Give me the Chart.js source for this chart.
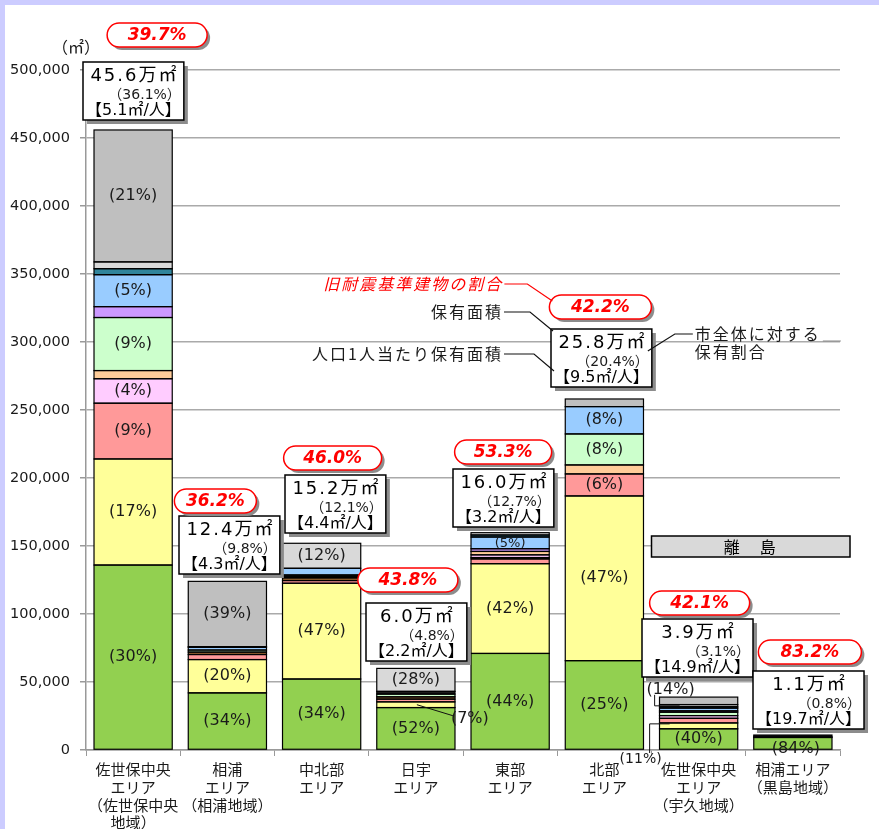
<!DOCTYPE html>
<html><head><meta charset="utf-8">
<script src="https://cdn.jsdelivr.net/npm/chart.js@4.4.1/dist/chart.umd.min.js"></script>
<style>html,body{margin:0;padding:0;background:#ccccff;}canvas{display:block;}</style>
</head><body>
<canvas id="c" width="879" height="829"></canvas>
<script>
// ---------- data ----------
const categories = [
  ['佐世保中央','エリア','（佐世保中央','地域）'],
  ['相浦','エリア','（相浦地域）'],
  ['中北部','エリア'],
  ['日宇','エリア'],
  ['東部','エリア'],
  ['北部','エリア'],
  ['佐世保中央','エリア','（宇久地域）'],
  ['相浦エリア','（黒島地域）']
];
const yTickLabels = ['0','50,000','100,000','150,000','200,000','250,000','300,000','350,000','400,000','450,000','500,000'];

// floor area by facility type (m²), one value per area
const schoolArea    = [136000, 42000, 52200, 31200, 71000, 65700, 15600, 9200];
const housingArea   = [78000, 24500, 70400, 4200, 66000, 121100, 4300, 0];
const cultureArea   = [41000, 3700, 2000, 2000, 3500, 16200, 3400, 500];
const socialEduArea = [0, 1800, 2000, 1700, 1000, 0, 0, 0];
const sportsArea    = [18000, 0, 0, 0, 2000, 0, 2000, 0];
const industryArea  = [6000, 0, 800, 0, 2500, 6600, 0, 0];
const childArea     = [39000, 1500, 0, 2000, 0, 22800, 2500, 0];
const welfareArea   = [8000, 0, 0, 0, 2000, 0, 1000, 0];
const medicalArea   = [0, 0, 1300, 2000, 0, 0, 0, 1300];
const adminArea     = [23500, 2000, 4900, 0, 8600, 20100, 2000, 0];
const supplyArea    = [4400, 500, 0, 0, 1500, 0, 1000, 0];
const parkArea      = [5000, 0, 18400, 16900, 1700, 0, 1600, 0];
const otherArea     = [97000, 48000, 0, 0, 0, 5600, 5500, 0];

// summary texts per area
const totalTexts   = ['45.6万㎡','12.4万㎡','15.2万㎡','6.0万㎡','16.0万㎡','25.8万㎡','3.9万㎡','1.1万㎡'];
const shareTexts   = ['（36.1%）','（9.8%）','（12.1%）','（4.8%）','（12.7%）','（20.4%）','（3.1%）','（0.8%）'];
const perCapTexts  = ['【5.1㎡/人】','【4.3㎡/人】','【4.4㎡/人】','【2.2㎡/人】','【3.2㎡/人】','【9.5㎡/人】','【14.9㎡/人】','【19.7㎡/人】'];
const oldRatioTexts= ['39.7%','36.2%','46.0%','43.8%','53.3%','42.2%','42.1%','83.2%'];

// percentage labels inside bars: [area index, series index, text]
const segmentLabels = [
  [0,0,'(30%)'],[0,1,'(17%)'],[0,2,'(9%)'],[0,4,'(4%)'],[0,6,'(9%)'],[0,9,'(5%)'],[0,12,'(21%)'],
  [1,0,'(34%)'],[1,1,'(20%)'],[1,12,'(39%)'],
  [2,0,'(34%)'],[2,1,'(47%)'],[2,11,'(12%)'],
  [3,0,'(52%)'],[3,1,'(7%)'],[3,11,'(28%)'],
  [4,0,'(44%)'],[4,1,'(42%)'],[4,9,'(5%)'],
  [5,0,'(25%)'],[5,1,'(47%)'],[5,2,'(6%)'],[5,6,'(8%)'],[5,9,'(8%)'],
  [6,0,'(40%)'],[6,1,'(11%)'],[6,12,'(14%)'],
  [7,0,'(84%)']
];

// ---------- styling ----------
const series = [
  {name:'学校教育系施設', values:schoolArea, color:'#92d050'},
  {name:'公営住宅', values:housingArea, color:'#ffff99'},
  {name:'市民文化系施設', values:cultureArea, color:'#ff9999'},
  {name:'社会教育系施設', values:socialEduArea, color:'#996633'},
  {name:'スポーツ・レクリエーション系施設', values:sportsArea, color:'#ffccff'},
  {name:'産業系施設', values:industryArea, color:'#ffcc99'},
  {name:'子育て支援施設', values:childArea, color:'#ccffcc'},
  {name:'保健・福祉施設', values:welfareArea, color:'#cc99ff'},
  {name:'医療施設', values:medicalArea, color:'#1a1a1a'},
  {name:'行政系施設', values:adminArea, color:'#99ccff'},
  {name:'供給処理施設', values:supplyArea, color:'#31859c'},
  {name:'公園', values:parkArea, color:'#d9d9d9'},
  {name:'その他', values:otherArea, color:'#bfbfbf'}
];

// layout of summary boxes relative to each bar (pixels)
const boxLayout = [
  {dx:0, gap:10, pdx:24, pdy:27, pw:100},
  {dx:2, gap:7, pdx:-12, pdy:15, pw:82},
  {dx:14, gap:10, pdx:11, pdy:17, pw:98},
  {dx:1, gap:7, pdx:-8, pdy:23, pw:100},
  {dx:-7, gap:6, pdx:-7, pdy:17, pw:97},
  {dx:-3, gap:12, pdx:-4, pdy:22, pw:102},
  {dx:-1, gap:20, pdx:1, pdy:16, pw:100},
  {dx:16, gap:6, pdx:17, pdy:19, pw:103}
];

const NUMFONT = "'DejaVu Sans','Noto Sans CJK JP',sans-serif";
const JPFONT = "'Noto Sans CJK JP','DejaVu Sans',sans-serif";
const TXT = '#1a1a1a';

function txt(ctx, s, x, y, font, color, align, spacing){
  ctx.save();
  ctx.font = font; ctx.fillStyle = color; ctx.textAlign = align || 'center'; ctx.textBaseline = 'middle';
  if (spacing) ctx.letterSpacing = spacing + 'px';
  ctx.fillText(s, x, y);
  ctx.restore();
}
function measure(ctx, s, font, spacing){
  ctx.save(); ctx.font = font; if (spacing) ctx.letterSpacing = spacing + 'px';
  const w = ctx.measureText(s).width; ctx.restore(); return w;
}
function line(ctx, pts, color, lw){
  ctx.save(); ctx.beginPath(); ctx.moveTo(pts[0][0], pts[0][1]);
  for (let i=1;i<pts.length;i++) ctx.lineTo(pts[i][0], pts[i][1]);
  ctx.strokeStyle = color; ctx.lineWidth = lw || 1; ctx.stroke(); ctx.restore();
}
function roundPath(ctx, x, y, w, h, r){
  ctx.beginPath();
  ctx.moveTo(x+r, y); ctx.lineTo(x+w-r, y); ctx.arc(x+w-r, y+r, r, -Math.PI/2, Math.PI/2);
  ctx.lineTo(x+r, y+h); ctx.arc(x+r, y+r, r, Math.PI/2, Math.PI*1.5); ctx.closePath();
}

const annotPlugin = {
  id:'annot',
  beforeDraw(chart){
    const c = chart.ctx; c.save();
    c.fillStyle = '#ccccff'; c.fillRect(0,0,chart.width,chart.height);
    c.fillStyle = '#ffffff'; c.fillRect(5,5,chart.width-5,chart.height-5);
    c.restore();
  },
  afterDatasetsDraw(chart){
    // Excel-like outlines: one shared line between stacked segments
    const ctx = chart.ctx;
    ctx.save();
    ctx.strokeStyle = '#000'; ctx.lineWidth = 1.2;
    chart.data.datasets.forEach((ds, di) => {
      chart.getDatasetMeta(di).data.forEach((el, i) => {
        if (ds.data[i] == null) return;
        ctx.strokeRect(el.x - el.width/2, el.y, el.width, el.base - el.y);
      });
    });
    ctx.restore();
  },
  afterDraw(chart){
    const ctx = chart.ctx, xs = chart.scales.x, ys = chart.scales.y, area = chart.chartArea;
    // unit label
    txt(ctx, '（㎡）', area.left - 10, area.top - 23, '16px ' + JPFONT, TXT, 'center');

    // segment labels
    segmentLabels.forEach(([bi, si, t]) => {
      const el = chart.getDatasetMeta(si).data[bi];
      const cx = el.x, cy = (el.y + el.base) / 2;
      const f = '16px ' + NUMFONT;
      if (bi === 3 && si === 1) {
        line(ctx, [[cx+1, cy], [cx+37, cy+11]], '#111', 1);
        txt(ctx, t, cx+54, cy+14, f, TXT);
      } else if (bi === 6 && si === 1) {
        line(ctx, [[cx-29, cy-2], [cx-49, cy-2], [cx-49, area.bottom+3]], '#111', 1);
        txt(ctx, t, cx-58, area.bottom+9, '14px ' + NUMFONT, TXT);
      } else if (bi === 6 && si === 12) {
        line(ctx, [[cx-44, cy-6], [cx-44, cy+5], [cx-19, cy+5]], '#111', 1);
        txt(ctx, t, cx-28, cy-11, f, TXT);
      } else if (bi === 7 && si === 0) {
        txt(ctx, t, cx+3, el.base, f, TXT);
      } else if (bi === 4 && si === 9) {
        txt(ctx, t, cx, cy+1, '13px ' + NUMFONT, TXT);
      } else {
        txt(ctx, t, cx, cy, f, TXT);
      }
    });

    // summary boxes and pills
    const boxes = [];
    categories.forEach((_, bi) => {
      let total = 0; series.forEach(s => total += s.values[bi]);
      const bx = xs.getPixelForValue(bi), top = ys.getPixelForValue(total);
      const L = boxLayout[bi];
      const f1 = '18px ' + NUMFONT, f2 = '14px ' + NUMFONT, f3 = '16px ' + NUMFONT;
      const w = Math.max(measure(ctx, totalTexts[bi], f1, 2), measure(ctx, perCapTexts[bi], f3)) + 6;
      const h = 58;
      const x = Math.round(bx + L.dx - w/2), y = Math.round(top - L.gap - h);
      ctx.save();
      ctx.fillStyle = '#8c8c8c'; ctx.fillRect(x+4, y+4, w, h);
      ctx.fillStyle = '#fff'; ctx.fillRect(x, y, w, h);
      ctx.strokeStyle = '#000'; ctx.lineWidth = 1.5; ctx.strokeRect(x, y, w, h);
      ctx.restore();
      txt(ctx, totalTexts[bi], x + w/2 + 1, y + 14, f1, '#000', 'center', 2);
      txt(ctx, shareTexts[bi], x + w - 3, y + 33, f2, TXT, 'right');
      txt(ctx, perCapTexts[bi], x + w/2, y + 49, f3, '#000', 'center');
      boxes.push({x, y, w, h});
      // pill
      const pw = L.pw, ph = 24, pcx = bx + L.pdx, pcy = y - L.pdy;
      ctx.save();
      roundPath(ctx, pcx - pw/2 + 3, pcy - ph/2 + 3, pw, ph, ph/2);
      ctx.fillStyle = '#8c8c8c'; ctx.fill();
      roundPath(ctx, pcx - pw/2, pcy - ph/2, pw, ph, ph/2);
      ctx.fillStyle = '#fff'; ctx.fill();
      ctx.strokeStyle = '#ff0000'; ctx.lineWidth = 1.5; ctx.stroke();
      ctx.restore();
      txt(ctx, oldRatioTexts[bi], pcx, pcy + 1, 'italic bold 17px ' + NUMFONT, '#ff0000', 'center');
      boxes[bi].pill = {l: pcx - pw/2, cy: pcy};
    });

    // explanatory callouts on 北部 box
    const b = boxes[5];
    const pl = b.pill.l, pcy = b.pill.cy;
    txt(ctx, '旧耐震基準建物の割合', pl - 46, pcy - 23, 'italic 16px ' + JPFONT, '#ff0000', 'right', 2);
    line(ctx, [[pl-45, pcy-23], [pl-22, pcy-23], [pl+3, pcy-6]], '#ff0000', 1.2);
    txt(ctx, '保有面積', b.x - 48, b.y - 17, '16px ' + JPFONT, TXT, 'right', 2);
    line(ctx, [[b.x-47, b.y-17], [b.x-21, b.y-17], [b.x+2, b.y+2]], '#111', 1.2);
    txt(ctx, '人口1人当たり保有面積', b.x - 48, b.y + 25, '16px ' + JPFONT, TXT, 'right', 2);
    line(ctx, [[b.x-47, b.y+25], [b.x-17, b.y+25], [b.x+3, b.y+42]], '#111', 1.2);
    const rx = b.x + b.w;
    line(ctx, [[rx-4, b.y+22], [rx+23, b.y+5], [rx+41, b.y+5]], '#111', 1.2);
    txt(ctx, '市全体に対する', rx + 43, b.y + 5, '16px ' + JPFONT, TXT, 'left', 2);
    txt(ctx, '保有割合', rx + 43, b.y + 23, '16px ' + JPFONT, TXT, 'left', 2);
    const tw = measure(ctx, '市全体に対する', '16px ' + JPFONT, 2);
    line(ctx, [[rx + 45 + tw, b.y + 12], [rx + 63 + tw, b.y + 12]], '#888', 1);

    // 離島 box
    const lx = (xs.getPixelForValue(5) + xs.getPixelForValue(6)) / 2;
    const ly = ys.getPixelForValue(150000);
    ctx.save();
    ctx.fillStyle = '#d9d9d9'; ctx.fillRect(lx, ly - 10, area.right + 10 - lx, 21);
    ctx.strokeStyle = '#000'; ctx.lineWidth = 1.5; ctx.strokeRect(lx, ly - 10, area.right + 10 - lx, 21);
    ctx.restore();
    txt(ctx, '離　島', (lx + area.right + 10) / 2, ly + 1, '16px ' + JPFONT, '#000', 'center', 2);
  }
};

const datasets = series.map(s => ({
  label: s.name,
  data: s.values.map(v => v === 0 ? null : v),
  backgroundColor: s.color,
  borderWidth: 0,
  barPercentage: 0.83,
  categoryPercentage: 1
}));

new Chart(document.getElementById('c'), {
  type: 'bar',
  data: { labels: categories, datasets },
  options: {
    responsive: false,
    animation: false,
    layout: { padding: { left: 0, right: 39, top: 70, bottom: 0 } },
    plugins: { legend: { display: false }, tooltip: { enabled: false } },
    scales: {
      x: {
        stacked: true,
        grid: { display: true, drawOnChartArea: false, drawTicks: true, tickLength: 6, color: '#999', offset: true },
        border: { display: true, color: '#999', width: 1.5 },
        ticks: { color: TXT, font: { family: JPFONT, size: 15, lineHeight: 1.17 }, padding: 5, maxRotation: 0, autoSkip: false },
        afterFit: s => { s.height = 79; }
      },
      y: {
        stacked: true,
        min: 0, max: 500000,
        grid: { color: '#aaaaaa', lineWidth: 1.5, tickLength: 6, tickColor: '#999' },
        border: { display: true, color: '#999', width: 1.5 },
        ticks: { stepSize: 50000, color: TXT, font: { family: NUMFONT, size: 14.5 }, padding: 10,
                 callback: (v, i) => yTickLabels[i] },
        afterFit: s => { s.width = 86; }
      }
    }
  },
  plugins: [annotPlugin]
});
</script>
</body></html>
